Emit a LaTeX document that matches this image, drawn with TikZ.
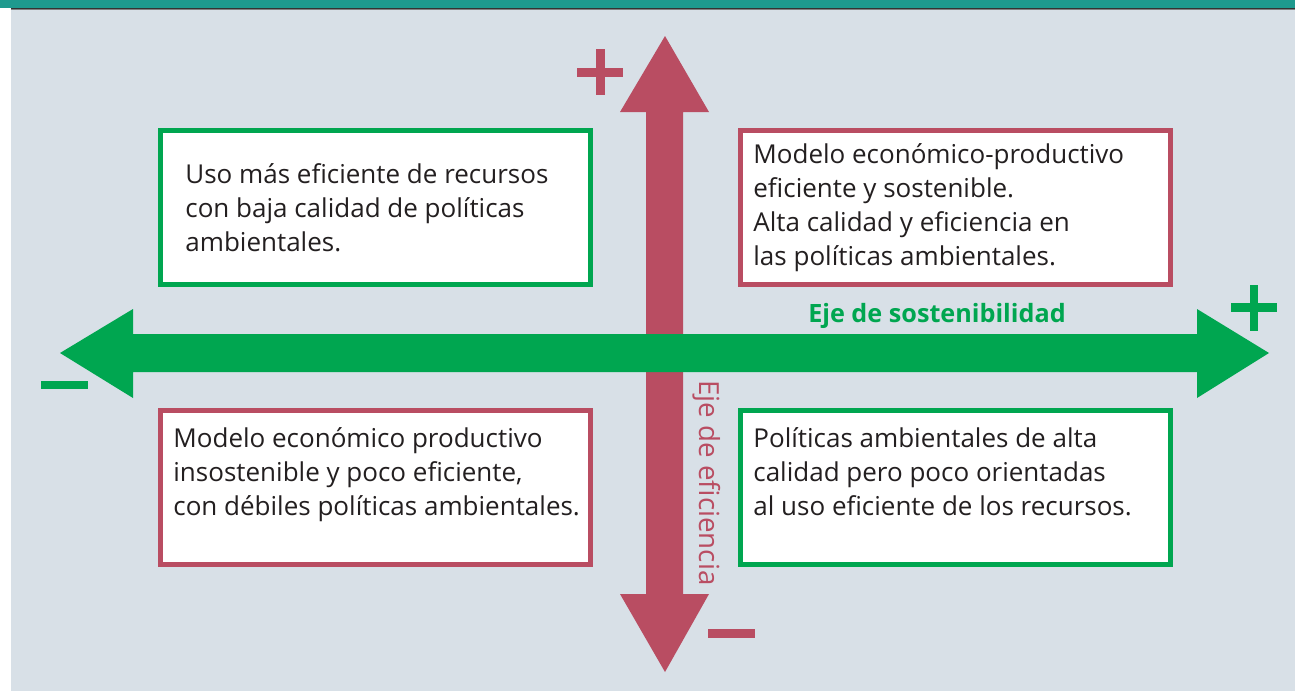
\documentclass[tikz,border=0pt]{standalone}
\usepackage{fontspec}
\setmainfont{Open Sans}
\definecolor{bgc}{HTML}{D8E0E7}
\definecolor{teal}{HTML}{1E9A8E}
\definecolor{grn}{HTML}{00A650}
\definecolor{rd}{HTML}{B94D62}
\definecolor{txt}{HTML}{231F20}
\newcommand{\lines}[1]{\begin{tabular}[t]{@{}l@{}}#1\end{tabular}}
\tikzset{
  box/.style={fill=white,line width=2.5pt},
  boxtext/.style={anchor=base west,inner sep=0pt,text=txt,font=\fontsize{13}{17}\selectfont},
}
\begin{document}
\begin{tikzpicture}[x=0.5pt,y=-0.5pt]
\useasboundingbox (0,0) rectangle (1295,691);
\fill[white] (0,0) rectangle (1295,691);
\fill[bgc] (11,10) rectangle (1295,691);
\fill[teal] (0,0) rectangle (1295,8);
\fill[black!80] (11,8) rectangle (1295,9);
\fill[gray] (11,9) rectangle (1295,10);
% boxes
\draw[box,draw=grn] (160,130) rectangle (590,284);
\draw[box,draw=rd] (740,130) rectangle (1170,284);
\draw[box,draw=rd] (160,410) rectangle (590,564);
\draw[box,draw=grn] (740,410) rectangle (1170,564);
\node[boxtext] (tl) at (185,183) {\lines{Uso más eficiente de recursos\\con baja calidad de políticas\\ambientales.}};
\node[boxtext] (tr) at (753,163) {\lines{Modelo económico-productivo\\eficiente y sostenible.\\Alta calidad y eficiencia en\\las políticas ambientales.}};
\node[boxtext] (bl) at (173,447) {\lines{Modelo económico productivo\\insostenible y poco eficiente,\\con débiles políticas ambientales.}};
\node[boxtext] (br) at (753,447) {\lines{Políticas ambientales de alta\\calidad pero poco orientadas\\al uso eficiente de los recursos.}};
% vertical arrow
\fill[rd] (665,36) -- (709,112) -- (683,112) -- (683,594) -- (709,594) -- (665,672) -- (620,594) -- (646,594) -- (646,112) -- (620,112) -- cycle;
% horizontal arrow
\fill[grn] (60,353) -- (133,309) -- (133,334) -- (1197,334) -- (1197,309) -- (1269,353) -- (1197,398) -- (1197,372) -- (133,372) -- (133,398) -- cycle;
% signs
\fill[rd] (577,68) rectangle (623,77);
\fill[rd] (596,49) rectangle (605,95);
\fill[rd] (708,629) rectangle (755,638);
\fill[grn] (1231,303) rectangle (1277,312);
\fill[grn] (1250,285) rectangle (1258,331);
\fill[grn] (41,381) rectangle (88,389);
% labels
\node[anchor=base,inner sep=0pt,text=grn,font=\fontsize{12.6}{15}\bfseries\selectfont] (ejes) at (937,322) {Eje de sostenibilidad};
\node[rotate=-90,inner sep=0pt,text=rd,font=\fontsize{13.85}{16}\selectfont] (ejee) at (707,483) {Eje de eficiencia};
\end{tikzpicture}
\end{document}
